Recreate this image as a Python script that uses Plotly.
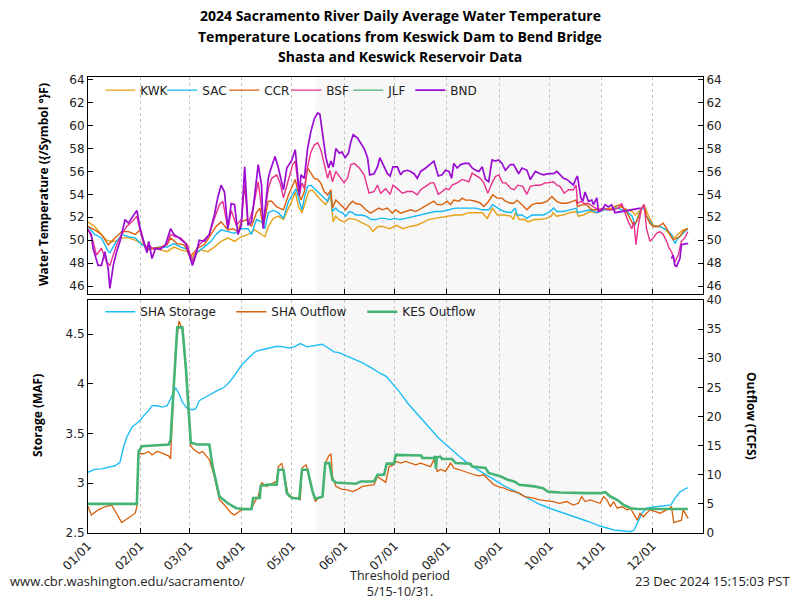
import pandas as pd
import plotly.graph_objects as go

# ---------------- data (day-of-year offsets from 2024-01-01) ----------------
kwk_day = [0,4,8,11,14,16,20,24,28,32,36,39,43,47,51,55,59,61,63,67,71,75,79,83,87,91,95,99,103,105,107,110,113,116,119,121,123,125,127,129,131,133,135,137,139,141,144,145.5,147,149,152,155,159,163,167,169,172,175,179,183,187,191,195,198,202,206,210,214,218,222,226,230,234,237,240,243,247,251,252.6,253.6,256,259,261,265,268,272,275,276,278,282,286,290,291,294,298,302,306,310,314,317,320,323,325,328,330,332.5,335.5,339,342,345,348,350,353,356]
kwk_temp = [51.6,51.2,50.5,50.0,49.9,49.9,50.2,50.2,50.0,49.7,49.3,49.3,49.15,49.0,49.4,49.15,49.0,48.4,48.7,49.15,49.0,49.4,49.9,50.2,49.9,50.3,50.5,50.9,50.5,50.3,51.2,51.9,52.1,51.8,52.8,53.4,54.2,52.9,52.4,53.4,54.25,54.4,54.0,53.7,53.4,53.1,53.8,51.6,52.1,51.8,51.6,51.9,51.8,51.5,51.2,50.75,51.2,51.2,51.0,51.3,51.0,51.2,51.3,51.5,51.8,51.9,52.0,52.1,52.2,52.2,52.4,52.4,52.4,51.9,52.8,52.2,52.2,52.1,51.8,52.4,51.8,51.8,51.6,51.8,51.8,51.9,52.1,52.4,52.1,52.2,52.4,52.5,52.1,52.2,52.5,52.4,52.65,52.8,52.8,52.9,52.65,52.5,52.2,52.65,53.1,52.2,51.3,51.2,51.0,50.6,50.2,50.5,50.9,51.0]

sac_day = [0,4,8,12,13,16,20,24,28,32,36,39,43,47,51,55,59,62,65,69,73,76,79,83,87,91,95,97,100,103,105,107,110,113,116,119,121.5,123.5,125.4,127,128.4,130.3,132.3,134.3,136.3,138.2,140.2,142.2,144.2,145.1,147,149,151,153,155,157,159,162,165,168,171,173,176,179,182,185,188.5,191.5,194.5,198,202,206,210,214,218,222,226,230,234,238,240,243,245,247,251,253.6,254.6,257.6,260.5,263.5,266.4,270.4,274.3,276.3,278.3,282,286,290,290.5,294,298,302,306,310,314,317,320,323,324.6,327.6,329.6,331.5,335.5,339.4,343.4,346.3,348.3,350.3,352.2,354.2,356]
sac_temp = [51.2,50.5,50.2,49.0,48.9,49.7,50.5,50.3,50.2,49.6,49.3,49.3,49.4,49.4,49.7,49.4,49.2,48.3,49.0,49.4,49.9,50.5,50.9,50.75,50.6,51.0,51.0,50.5,51.8,51.6,51.0,52.4,52.6,52.4,51.9,53.4,54.0,54.5,53.4,52.65,53.7,54.7,54.8,54.5,54.25,54.0,53.7,53.4,54.25,52.5,52.8,52.5,52.4,52.1,52.5,52.4,52.2,52.2,52.1,51.8,51.8,51.9,51.9,51.8,51.9,51.8,51.9,52.0,52.1,52.2,52.4,52.5,52.5,52.65,52.8,52.8,52.8,52.8,52.65,52.65,53.1,52.8,52.65,52.5,52.4,52.8,52.2,52.2,51.9,52.2,52.2,52.2,52.5,52.8,52.5,52.5,52.65,52.8,52.4,52.5,52.65,52.4,52.65,52.65,52.8,52.65,52.5,52.1,51.3,52.5,52.9,52.1,51.2,51.2,50.9,50.5,49.7,50.2,50.5,50.75,51.0]

ccr_day = [0,4,8,12,16,20,24,28,31,33,36,39,43,47,49,53,57,61,65,69,73,76,79,83,86,89,91,94,97,100,102,104,107,109,112,116,119,121.5,123,124.4,126.4,128.4,130.3,132.3,134.3,136.3,138.2,140.2,142.2,144.2,145.1,147.1,149.1,151.1,153,155,157,159,161.9,164.9,167.8,170.8,172.8,174.7,177.7,180.6,182.6,185.6,188.5,191.5,194.5,198.4,202.3,205.3,207.3,210.2,213.2,215.2,217.1,220.1,222.1,224,227,230,232.9,234.9,237.8,240.2,242.8,245.7,247.7,250.7,252.6,254.6,257.6,260.5,263.5,266.4,269.4,272.4,275.3,278.3,281.2,284.2,287.2,289.7,290.5,293.1,296,299,302,305.9,309.8,312.8,315.8,318.7,320.7,323.6,325.6,328.6,330,331.5,333.5,335.5,338.4,341.4,343.4,345.3,347.3,349.3,351.3,353.2,356]
ccr_temp = [51.2,50.9,50.5,49.6,50.2,50.75,50.75,50.5,50.9,49.7,49.15,49.3,49.4,49.6,50.2,49.7,49.6,48.6,49.3,49.6,50.5,51.2,51.6,50.9,51.0,50.75,51.6,51.8,51.2,52.4,52.8,51.2,53.4,53.4,52.9,52.65,53.96,54.8,55.3,54.4,53.5,54.25,56.3,55.85,55.4,55.3,54.98,54.25,53.96,54.4,52.8,53.5,53.2,52.9,52.65,53.1,53.4,53.2,53.1,52.65,52.36,52.65,52.8,52.65,52.8,52.36,52.65,52.36,52.5,52.65,52.5,52.8,53.1,53.4,53.1,53.1,53.4,53.1,53.5,53.4,53.67,53.5,53.5,53.4,53.23,52.94,53.4,53.96,53.67,53.67,53.4,53.23,53.23,53.5,53.1,52.65,53.1,53.23,53.23,53.4,53.81,53.37,53.23,53.23,53.37,53.52,52.94,53.08,53.08,52.65,52.65,52.79,52.65,52.94,53.08,52.65,52.21,51.34,51.63,52.79,53.08,52.06,51.48,51.19,51.19,51.48,51.04,50.46,50.03,50.17,50.32,50.75,51.04]

bsf_day = [0,3,5,8,11,13,15,17,20,23,26,29,31,34,36,39,43,47,49,52,55,59,62,65,68,72,75,78,80,83,85,88,91,93,95,98,101,104,107,109,112,114,116,119,121.5,123,124.4,125.4,127,128.4,130.3,132.3,134.3,136.3,138.2,140.2,142.2,143.6,145.1,147.1,149.1,152,154,156,158,161,163.9,166.8,169.8,171.8,173.7,176.7,179.3,181,183.6,186.6,189.5,192.5,195.4,197.4,200.4,203.3,205.3,207.9,210.2,212.2,214.2,216.1,219.1,222.1,224,226,228,230.4,232.9,234.9,237.3,239.8,241.8,243.8,246,248,251,253,255,258,260.5,262.5,265.5,268.4,271.4,273.3,276.3,278.3,280.2,282.6,285.2,288.1,289.7,290.5,292.5,294.4,297,300,302.9,305.9,308.8,311.8,314.8,316.7,318.7,320.7,322.7,324,325.2,326.6,328.6,330,331.5,333.5,335.5,337.4,339.4,341.4,343.4,344.9,346.3,348.3,350.3,352.2,354.2,356]
bsf_temp = [51.0,49.9,48.7,49.3,48.1,47.8,48.7,49.6,50.5,51.2,51.6,52.1,50.8,49.3,49.6,49.2,49.3,49.7,50.5,50.3,50.2,49.6,48.1,49.4,49.9,50.5,51.9,53.1,53.4,51.0,52.6,51.3,51.8,54.8,51.3,52.8,55.1,51.6,54.5,55.4,55.7,55.0,53.7,55.4,56.6,56.9,54.8,53.96,55.0,54.5,56.4,57.7,58.3,58.5,57.9,56.6,55.4,56.1,55.1,56.0,55.6,55.0,55.4,56.6,56.7,56.3,55.7,54.1,54.25,54.8,54.1,54.5,54.0,54.8,54.5,54.1,54.25,54.25,53.96,54.4,54.7,55.0,55.0,54.0,54.25,54.5,54.4,54.8,55.0,55.3,55.2,55.1,55.85,55.6,55.4,55.0,54.1,55.0,55.56,55.7,55.0,55.0,54.5,54.4,54.8,54.7,54.0,54.7,54.8,54.8,55.0,55.0,55.1,54.8,54.7,54.1,54.4,54.4,54.8,53.2,53.4,53.2,53.2,52.9,52.65,52.8,52.65,52.65,52.8,53.2,52.36,51.6,51.0,51.6,49.6,51.3,52.8,53.1,51.0,49.9,50.2,50.6,50.75,50.5,49.9,49.3,49.0,48.1,48.7,49.9,50.2,50.75]

jlf_day = [0]
jlf_temp = [None]

bnd_day = [0,2,3,6,8,10,12,13,15,17,19,22,24,27,29,31,33,35,36,38,40,43,46,49,51,54,58,60,62,64,66,69,72,75,77,79,81,83,85,87,89,91,93,95,97,99,101,103,104,107,108,111,113,116,118,121,123,124.4,125.4,126.4,128.4,130.3,132.3,134.3,136.3,137.6,139.2,141.2,142.8,144.2,145.5,147.1,149.1,150.7,152.6,154.6,156,157.4,160,161.9,163.9,165.9,167.2,169.8,171.8,173.2,175.7,177.7,179.3,181,183.6,185.6,187,189.5,191.5,193.5,195.4,197.4,200.4,203.3,205.3,207.9,210.2,212.2,214.2,215.8,217.1,219.1,221.1,223.6,226,228,230,232,234,235.9,237.8,239.8,241.8,243.8,245.7,247.7,250.7,252.6,255.6,257.6,260.5,262.5,265.5,268.4,270.4,273.3,276.3,278.3,280.2,282.2,284.2,286.2,288.1,289.7,290.5,292.5,293.7,295,297,299,300,302,302.9,304.9,306.9,308.8,310.8,312.8,328,344.4,346.3,347.3,348.3,349.3,351.3,352.2,355.2,356.2]
bnd_temp = [50.9,50.5,49.3,47.8,47.8,49.0,47.5,45.8,47.8,49.0,49.9,51.8,51.5,52.1,52.6,51.0,49.9,48.9,49.9,48.4,49.3,49.2,49.6,51.0,50.5,50.2,49.7,48.7,47.8,48.7,50.0,49.9,50.5,52.2,53.7,54.8,54.2,51.0,53.2,53.1,50.5,51.3,56.4,51.3,51.6,54.0,56.6,54.8,51.0,55.4,56.0,57.3,56.3,54.4,56.3,57.0,57.9,55.7,53.9,55.7,55.4,58.0,59.5,60.6,61.1,61.0,59.5,57.2,56.3,56.9,56.4,58.0,57.6,57.7,57.2,57.6,58.6,59.2,58.9,58.5,58.0,57.2,55.7,55.8,56.4,57.2,56.4,55.8,55.6,56.4,56.4,55.7,56.0,56.1,56.0,55.8,55.4,56.0,56.3,56.7,56.9,55.6,55.7,56.1,56.0,55.4,56.7,56.3,56.6,56.7,56.7,56.3,56.1,56.0,56.4,55.3,55.1,57.0,56.9,57.0,56.7,56.1,56.6,56.6,55.8,56.3,56.1,55.3,56.0,55.8,55.7,55.8,55.8,56.0,55.7,55.4,55.3,55.0,54.8,55.4,55.6,53.7,53.4,54.2,53.4,53.5,53.1,53.7,52.5,52.6,53.1,52.9,53.1,52.4,52.8,None,48.4,48.7,47.8,47.7,48.4,49.6,49.7,49.7,50.2]

sha_storage_day = [0,4,8,12,16,19,21,23,26,29,31,33,36,38,41,44,47,49,52,54,56,59,62,64,66,69,73,77,81,84,87,91,95,99,102,107,112,116,119,122.5,126,130,134,139,143,146,149,154,158,163,169,173,177,181,185,190,196,202,208,214,220,226,232,238,241,247,253,260.5,268,274,280,288,296,304,312,318,322,324,326,329,331.5,335.5,341,346,348,351,354,356]
sha_storage_maf = [3.11,3.14,3.145,3.16,3.176,3.21,3.36,3.46,3.563,3.604,3.63,3.68,3.73,3.78,3.78,3.766,3.78,3.85,3.96,3.90,3.816,3.75,3.74,3.75,3.83,3.86,3.893,3.934,3.968,4.018,4.085,4.186,4.254,4.32,4.338,4.36,4.378,4.372,4.36,4.372,4.405,4.372,4.385,4.398,4.355,4.321,4.314,4.277,4.254,4.21,4.153,4.109,4.075,4.0,3.917,3.8,3.681,3.57,3.456,3.362,3.277,3.193,3.13,3.06,3.03,2.974,2.924,2.856,2.789,2.749,2.715,2.671,2.621,2.57,2.53,2.52,2.513,2.527,2.604,2.705,2.749,2.762,2.772,2.782,2.84,2.907,2.94,2.957]

sha_out_day = [0,2,6,10,14,17,20,22,25,28,29,30,33,36,38,41,44,48,49,52,54,56,58,61,63,66,68,70,72,75,78,81,83,85,87,91,95,97,99,101,103,106,108,112,113,115,117,119,124,126,127,129.4,130.3,132.3,134.9,136.3,139.2,140.8,142.8,144.2,145.1,147.1,149.1,151.1,154,157,160,162.9,166.8,169.8,171.8,174.7,176.7,178.7,181.6,182.6,185.6,188.5,191.5,194.5,197.4,200.4,203.3,205.3,207.3,209.2,212.2,215.2,217.1,220.1,223.1,226,229,231.9,234.9,237.8,241,244,247,250,253,256,259,261.5,264.5,268,272,276,280,284,288,291,293,295,298,301,304,306,308,310,312,314,317,320,322,323.6,326,327.6,329.6,331.5,333.5,336.5,339.4,342.4,345.3,346.3,347.7,351.3,352.2,353.2,354.2,356.2]
sha_out_kcfs = [4.6,3.1,3.96,4.5,4.8,3.4,1.78,2.2,2.8,3.4,4.5,13.6,13.6,14.0,13.4,14.0,13.7,13.2,12.7,31.6,36.4,35.0,28.1,14.9,14.3,13.7,14.0,13.2,12.6,9.7,5.7,4.8,4.1,3.4,3.1,3.96,4.1,4.1,5.4,6.3,8.6,8.0,8.3,8.9,11.4,12.0,9.1,6.3,6.0,5.7,11.15,11.7,10.9,8.0,5.4,5.9,6.26,12.0,13.2,13.6,9.7,8.0,7.7,7.5,7.4,7.1,7.5,8.0,8.16,8.3,9.7,9.1,8.7,11.4,11.7,12.3,12.0,12.3,12.0,11.7,12.0,11.7,11.4,12.6,10.57,10.9,10.57,12.0,11.15,10.9,10.57,10.3,10.0,9.8,10.0,9.14,8.27,7.9,7.7,7.3,7.1,6.84,6.26,6.15,5.97,5.69,5.57,5.4,5.1,5.4,4.8,5.1,6.26,5.4,5.69,5.4,5.1,6.26,5.69,4.5,5.4,4.25,4.5,3.96,4.25,3.4,2.2,3.4,2.8,3.4,3.96,3.7,3.4,3.8,4.25,4.5,1.78,2.1,2.2,3.96,3.4,2.5]

kes_out_day = [0,29,30,32,48,49,53,56,58,61,65,72,74,78,83,88,93,97,98,102,102.5,107,112,113,116,118,121,125.4,127,130.3,133.3,134.9,139.2,140.8,143.2,145.1,147.1,153,159,161.9,169.8,171.8,175.7,177.3,181.6,182.6,190.5,197.8,198.4,205.3,206,206.5,207,209.2,210.2,216.1,218.1,227,228,235.9,237.8,241,245,249,253,256,261,265,270,273,280,288,296,304,307,310,314,318,322,326,340,356]
kes_out_kcfs = [5.0,5.0,14.0,14.9,15.2,16.0,35.3,35.3,28.7,15.5,15.2,15.2,11.4,6.26,5.1,4.25,4.1,4.1,6.0,6.0,8.1,8.3,8.3,10.86,10.86,6.84,6.0,5.9,10.86,10.86,7.1,5.86,6.26,12.0,12.0,9.14,8.68,8.6,8.45,8.85,8.85,10.0,10.0,11.9,11.9,13.4,13.4,13.3,12.87,12.87,13.2,11.0,13.0,13.1,12.7,12.7,12.0,11.9,11.4,11.15,10.3,10.0,9.7,9.14,8.85,8.27,8.16,8.0,7.7,7.1,6.95,6.84,6.84,6.84,7.0,6.26,5.7,4.8,4.25,4.13,4.13,4.13]

month_ticks = ["01/01","02/01","03/01","04/01","05/01","06/01","07/01","08/01","09/01","10/01","11/01","12/01"]
temp_ticks = [46,48,50,52,54,56,58,60,62,64]
storage_ticks = [2.5,3,3.5,4,4.5]
outflow_ticks = [0,5,10,15,20,25,30,35,40]

# ---------------- helpers ----------------
base = pd.Timestamp("2024-01-01")
def to_dates(days):
    return [base + pd.Timedelta(days=float(d)) for d in days]

tick_dates = [pd.Timestamp(f"2024-{t[:2]}-{t[3:]}") for t in month_ticks]

FONT = "DejaVu Sans"
TXT = "#222222"

fig = go.Figure()

temp_series = [
    ("KWK", kwk_day, kwk_temp, "#E6A117", 1.4),
    ("SAC", sac_day, sac_temp, "#14B8F2", 1.4),
    ("CCR", ccr_day, ccr_temp, "#D8600C", 1.4),
    ("BSF", bsf_day, bsf_temp, "#E8318A", 1.4),
    ("JLF", jlf_day, jlf_temp, "#4DAF7C", 1.4),
    ("BND", bnd_day, bnd_temp, "#9A0CD2", 1.7),
]
for name, d, v, c, w in temp_series:
    fig.add_trace(go.Scatter(x=to_dates(d), y=v, name=name, mode="lines",
                             line=dict(color=c, width=w), connectgaps=False,
                             xaxis="x", yaxis="y", legend="legend"))
# spacer legend entry so the last label is not clipped
fig.add_trace(go.Scatter(x=[base], y=[None], name="   ", mode="lines",
                         line=dict(color="rgba(0,0,0,0)", width=0), hoverinfo="skip",
                         xaxis="x", yaxis="y", legend="legend"))
# anchor trace for right-hand temperature axis
fig.add_trace(go.Scatter(x=[base], y=[None], showlegend=False, hoverinfo="skip",
                         xaxis="x", yaxis="y3"))

fig.add_trace(go.Scatter(x=to_dates(sha_storage_day), y=sha_storage_maf, name="SHA Storage",
                         mode="lines", line=dict(color="#1DBDF5", width=1.4),
                         xaxis="x2", yaxis="y2", legend="legend2"))
fig.add_trace(go.Scatter(x=to_dates(sha_out_day), y=sha_out_kcfs, name="SHA Outflow",
                         mode="lines", line=dict(color="#D8600C", width=1.3),
                         xaxis="x2", yaxis="y4", legend="legend2"))
fig.add_trace(go.Scatter(x=to_dates(kes_out_day), y=kes_out_kcfs, name="KES Outflow",
                         mode="lines", line=dict(color="#45B374", width=2.6),
                         xaxis="x2", yaxis="y4", legend="legend2"))

xrange = [pd.Timestamp("2024-01-01"), pd.Timestamp("2024-12-31")]
xcommon = dict(range=xrange, tickvals=tick_dates, showline=True, linecolor="black",
               linewidth=1, mirror=True, ticks="inside", ticklen=5, tickcolor="black",
               showgrid=True, gridcolor="#c4c4c4", griddash="dot", gridwidth=1,
               zeroline=False, automargin=False)
ycommon = dict(showline=True, linecolor="black", linewidth=1, ticks="inside", ticklen=5,
               tickcolor="black", showgrid=False, zeroline=False, automargin=False,
               tickfont=dict(family=FONT, size=12, color=TXT))

top_dom = [0.524, 1.0]
bot_dom = [0.0, 0.511]

fig.update_layout(
    width=800, height=600,
    margin=dict(l=88, r=97, t=77, b=67, autoexpand=False),
    paper_bgcolor="white", plot_bgcolor="white",
    font=dict(family=FONT, size=12, color=TXT),
    showlegend=True,
    xaxis=dict(xcommon, domain=[0, 1], anchor="y", showticklabels=False),
    xaxis2=dict(xcommon, domain=[0, 1], anchor="y2", ticktext=month_ticks,
                tickangle=-45, tickfont=dict(family=FONT, size=12, color=TXT)),
    yaxis=dict(ycommon, domain=top_dom, anchor="x", range=[45.3, 64.24],
               tickvals=temp_ticks, mirror=False),
    yaxis3=dict(ycommon, domain=top_dom, anchor="x", overlaying="y", side="right",
                range=[45.3, 64.24], tickvals=temp_ticks),
    yaxis2=dict(ycommon, domain=bot_dom, anchor="x2", range=[2.5, 4.843],
                tickvals=storage_ticks, ticktext=["2.5","3","3.5","4","4.5"]),
    yaxis4=dict(ycommon, domain=bot_dom, anchor="x2", overlaying="y2", side="right",
                range=[0, 40], tickvals=outflow_ticks),
    legend=dict(orientation="h", x=0.02, y=1.003, xanchor="left", yanchor="top",
                bgcolor="rgba(0,0,0,0)", font=dict(family=FONT, size=12, color=TXT),
                entrywidth=17, entrywidthmode="pixels", itemwidth=30,
                tracegroupgap=0),
    legend2=dict(orientation="h", x=0.02, y=bot_dom[1] + 0.006, xanchor="left", yanchor="top",
                 bgcolor="rgba(0,0,0,0)", font=dict(family=FONT, size=12, color=TXT),
                 entrywidth=86, entrywidthmode="pixels", itemwidth=30),
)

# threshold-period shading
for yref in ["y domain", "y2 domain"]:
    xr = "x" if yref.startswith("y ") else "x2"
    fig.add_shape(type="rect", xref=xr, yref=yref, x0="2024-05-15", x1="2024-10-31",
                  y0=0, y1=1, fillcolor="#f7f7f7", line=dict(width=0), layer="below")

H = 456.0
def py(ypx):
    return (533 - ypx) / H
def px(xpx):
    return (xpx - 88) / 615.0

def note(text, x, y, size=12, angle=0, xanchor="center", fam="Open Sans", color="black"):
    fig.add_annotation(text=text, xref="paper", yref="paper", x=px(x), y=py(y),
                       showarrow=False, xanchor=xanchor, yanchor="middle", textangle=angle,
                       font=dict(family=fam, size=size, color=color))

titles = ["2024 Sacramento River Daily Average Water Temperature",
          "Temperature Locations from Keswick Dam to Bend Bridge",
          "Shasta and Keswick Reservoir Data"]
for i, t in enumerate(titles):
    note(f"<b>{t}</b>", 400, 16 + 20 * i, size=14)

note("<b>Water Temperature ({/Symbol °}F)</b>", 43, 185, angle=-90)
note("<b>Storage (MAF)</b>", 37, 416, angle=-90)
note("<b>Outflow (TCFS)</b>", 752, 416, angle=90)

note("www.cbr.washington.edu/sacramento/", 8, 581, xanchor="left", color="#222", size=13)
note("Threshold period<br>5/15-10/31.", 400, 583, color="#222", size=12.5)
note("23 Dec 2024 15:15:03 PST", 792, 581, xanchor="right", color="#222", size=13)

fig.write_html("out.html", config={"displayModeBar": False},
               post_script="document.body.style.margin='0';document.body.style.padding='0';")
